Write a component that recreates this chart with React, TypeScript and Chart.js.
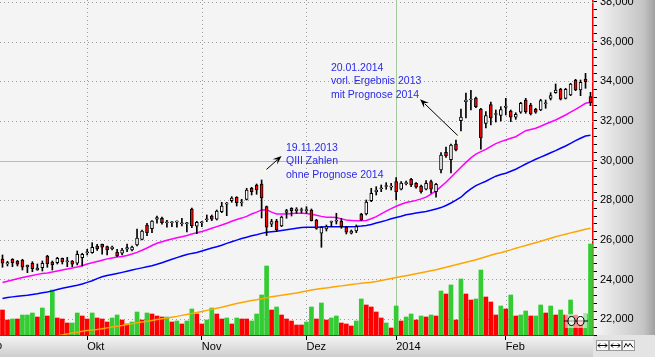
import React, { useEffect, useRef } from "react";
import { Chart, registerables } from "chart.js";

Chart.register(...registerables);

// ---------- categories (trading days) ----------
const sepDays = "06 09 10 11 12 13 16 17 18 19 20 23 24 25 26 27 30".split(" ");
const octDays = "01 02 03 04 07 08 09 10 11 14 15 16 17 18 21 22 23 24 25 28 29 30 31".split(" ");
const novDays = "01 04 05 06 07 08 11 12 13 14 15 18 19 20 21 22 25 26 27 28 29".split(" ");
const decDays = "02 03 04 05 06 09 10 11 12 13 16 17 18 19 20 23 27 30".split(" ");
const janDays = "02 03 06 07 08 09 10 13 14 15 16 17 20 21 22 23 24 27 28 29 30 31".split(" ");
const febDays = "03 04 05 06 07 10 11 12 13 14 17 18 19 20 21 24 25 26".split(" ");
const dates: string[] = [
  ...sepDays.map((d) => d + ".09.2013"),
  ...octDays.map((d) => d + ".10.2013"),
  ...novDays.map((d) => d + ".11.2013"),
  ...decDays.map((d) => d + ".12.2013"),
  ...janDays.map((d) => d + ".01.2014"),
  ...febDays.map((d) => d + ".02.2014"),
];

// ---------- x tick labels ----------
const tickDates = ["01.10.2013", "01.11.2013", "02.12.2013", "02.01.2014", "03.02.2014"];
const tickLabels = ["Okt", "Nov", "Dez", "2014", "Feb"];
const leadingTickLabel = "Sep";
const leadingTickOffset = -4; // 02.09.2013, left of the first shown day
const yearStartDate = "02.01.2014";

// ---------- y tick labels ----------
const priceLevels = [22000, 24000, 26000, 28000, 30000, 32000, 34000, 36000, 38000];
const minorTickStep = 400;
const highlightLevel = 30000;
const yMin = 21200;
const yMax = 38100;

// ---------- OHLC ----------
const open = [
  25035, 24783, 25020, 24934, 24984, 24646, 24818, 24480, 24596, 25186,
  24883, 24848, 25070, 24897, 24934, 24818, 25100, 25348, 25353, 25691,
  25776, 25655, 25554, 25373, 25322, 25524, 25489, 25741, 26028, 26750,
  26563, 27038, 27088, 26861, 26861, 26892, 26811, 26811, 27557, 26684,
  26861, 27013, 27204, 27038, 27421, 27799, 27976, 28147, 27860, 28046,
  28601, 28768, 28818, 27673, 26785, 26952, 26700, 27380, 27592, 27471,
  27482, 27477, 27507, 27002, 26331, 26548, 26889, 26940, 26952, 26634,
  26331, 26447, 27290, 27305, 27976, 28430, 28576, 28692, 28657, 28934,
  28551, 28839, 29055, 28853, 28717, 28551, 28934, 28430, 29524, 30417,
  30044, 30836, 32011, 32970, 33056, 33156, 32592, 31880, 32818, 32324,
  32274, 32677, 32501, 32183, 32435, 33056, 32803, 32586, 32551, 32864,
  33141, 33424, 33595, 33141, 33308, 34064, 33560, 34115, 33222,
];
const close = [
  24818, 24848, 24848, 24767, 24616, 24717, 24545, 24581, 24818, 24798,
  24747, 25070, 24899, 24947, 24767, 25272, 25272, 25398, 25625, 25554,
  25625, 25489, 25640, 25201, 25489, 25605, 25640, 26094, 26447, 26362,
  26952, 27118, 26866, 26911, 26911, 26942, 26861, 26861, 26715, 26886,
  26911, 27063, 27038, 27456, 27708, 27849, 28112, 27875, 27910, 28515,
  28430, 28515, 28112, 26634, 26916, 26498, 27154, 27481, 27471, 27557,
  27532, 27527, 26967, 26583, 26634, 26664, 26939, 26990, 26664, 26382,
  26447, 26664, 27002, 27910, 28349, 28515, 28626, 28742, 28707, 28430,
  28869, 28889, 28768, 28652, 28430, 28853, 28551, 28803, 30281, 30231,
  30785, 30533, 32198, 33056, 33106, 32718, 31139, 32274, 32147, 32374,
  32566, 32753, 32183, 32334, 32889, 32465, 32349, 32435, 33020, 32914,
  33273, 33560, 33091, 33595, 33863, 33560, 33948, 33979, 32919,
];
const high = [
  25237, 24919, 25050, 24960, 25020, 24732, 24899, 24783, 24934, 25221,
  24934, 25121, 25085, 25121, 24959, 25438, 25322, 25524, 25857, 25776,
  25791, 25691, 25691, 25524, 25575, 25791, 25691, 26548, 26498, 26836,
  26970, 27204, 27153, 26987, 26920, 26960, 27088, 26880, 27607, 26937,
  26930, 27254, 27254, 27507, 27895, 27895, 28178, 28178, 28046, 28601,
  28652, 28818, 29020, 27708, 27038, 27038, 27204, 27542, 27623, 27623,
  27607, 27673, 27557, 27038, 26664, 26750, 26952, 27340, 27088, 26664,
  26498, 26750, 27340, 28011, 28601, 28682, 28768, 28884, 28853, 29136,
  28934, 28969, 29106, 28884, 28768, 28985, 29020, 28853, 30397, 30685,
  30836, 31038, 32602, 33409, 33545, 33207, 32637, 32465, 32945, 32551,
  32718, 33141, 32551, 32415, 32940, 33141, 32889, 32637, 33091, 33056,
  33424, 33863, 33646, 33646, 33898, 34100, 34064, 34402, 33444,
];
const low = [
  24616, 24682, 24646, 24682, 24480, 24344, 24394, 24465, 24429, 24616,
  24480, 24783, 24783, 24646, 24646, 24732, 24682, 25237, 25322, 25464,
  25272, 25237, 25489, 25151, 25237, 25403, 25438, 25691, 25993, 26210,
  26362, 26836, 26785, 26634, 26664, 26634, 26699, 26397, 26614, 26311,
  26664, 26916, 26967, 27002, 27370, 27219, 27895, 27708, 27708, 28011,
  28263, 28298, 27103, 26220, 26664, 26412, 26664, 27088, 27204, 27340,
  27355, 27340, 26952, 26533, 25625, 26447, 26664, 26800, 26583, 26296,
  26296, 26362, 26967, 27255, 27925, 28263, 28430, 28551, 28515, 28011,
  28515, 28768, 28682, 28601, 28349, 28515, 28349, 28147, 29373, 30155,
  29373, 30483, 31492, 32147, 32551, 32667, 30569, 31643, 31794, 31946,
  31996, 32299, 31961, 32082, 32385, 32385, 32299, 32385, 32516, 32637,
  33056, 33394, 33056, 33106, 33273, 33525, 33273, 33646, 32768,
];

// ---------- volume (thousands) and its colour flag (1 = green, 0 = red) ----------
const volumeK = [
  250, 150, 160, 160, 200, 200, 220, 180, 270, 190,
  450, 170, 160, 120, 120, 220, 190, 160, 220, 170,
  160, 130, 170, 200, 150, 110, 130, 230, 150, 220,
  210, 190, 180, 180, 130, 140, 110, 140, 260, 210,
  110, 150, 270, 210, 160, 170, 110, 170, 160, 160,
  140, 210, 400, 690, 250, 280, 200, 160, 140, 100,
  100, 130, 280, 160, 320, 150, 170, 190, 120, 110,
  90, 140, 360, 300, 280, 230, 170, 120, 70, 290,
  140, 180, 210, 150, 190, 180, 200, 190, 440, 410,
  500, 150, 560, 410, 350, 360, 650, 380, 330, 200,
  290, 260, 400, 190, 200, 240, 190, 190, 300, 220,
  290, 200, 250, 200, 350, 200, 150, 210, 910,
];
const volumeUp = [
  0, 0, 1, 0, 1, 1, 1, 0, 1, 0,
  1, 0, 0, 0, 1, 1, 0, 0, 1, 0,
  0, 0, 1, 1, 0, 0, 1, 1, 0, 1,
  0, 0, 0, 1, 0, 1, 0, 1, 1, 0,
  0, 1, 1, 0, 0, 1, 0, 1, 0, 0,
  1, 1, 1, 1, 0, 1, 0, 0, 0, 0,
  0, 1, 1, 0, 1, 0, 1, 1, 0, 0,
  0, 1, 1, 0, 0, 0, 0, 1, 0, 1,
  0, 1, 1, 0, 1, 0, 1, 0, 1, 0,
  1, 0, 1, 0, 0, 1, 1, 0, 0, 0,
  1, 0, 1, 0, 1, 1, 0, 1, 1, 0,
  1, 0, 1, 0, 1, 0, 0, 1, 1,
];
const volumeMaxK = 3350;

// ---------- moving averages ----------
const maShort = [
  23849, 23915, 23975, 24036, 24097, 24152, 24207, 24258, 24298, 24329,
  24374, 24424, 24475, 24525, 24576, 24626, 24697, 24783, 24843, 24909,
  24974, 25040, 25090, 25136, 25166, 25211, 25282, 25368, 25474, 25590,
  25716, 25827, 25907, 25983, 26044, 26104, 26160, 26220, 26291, 26356,
  26422, 26498, 26583, 26669, 26750, 26841, 26942, 27027, 27098, 27184,
  27305, 27396, 27512, 27517, 27396, 27305, 27305, 27305, 27325, 27340,
  27340, 27330, 27290, 27244, 27184, 27138, 27138, 27123, 27058, 26997,
  26982, 26967, 26967, 26982, 27068, 27169, 27310, 27446, 27572, 27693,
  27794, 27885, 27935, 27991, 28066, 28157, 28309, 28470, 28687, 28904,
  29156, 29408, 29661, 29908, 30135, 30321, 30448, 30564, 30715, 30856,
  30957, 31038, 31124, 31204, 31356, 31507, 31567, 31628, 31734, 31845,
  31946, 32047, 32173, 32299, 32440, 32586, 32738, 32889, 32940,
];
const maMid = [
  23042, 23088, 23123, 23153, 23183, 23209, 23244, 23284, 23330, 23370,
  23426, 23496, 23557, 23612, 23663, 23708, 23774, 23854, 23935, 24046,
  24137, 24197, 24248, 24303, 24359, 24419, 24480, 24535, 24586, 24641,
  24697, 24767, 24848, 24934, 25020, 25105, 25186, 25262, 25317, 25363,
  25438, 25514, 25585, 25655, 25731, 25822, 25902, 25988, 26064, 26134,
  26205, 26261, 26326, 26387, 26412, 26437, 26472, 26508, 26548, 26588,
  26624, 26634, 26634, 26634, 26654, 26664, 26664, 26664, 26664, 26664,
  26664, 26669, 26694, 26725, 26775, 26846, 26911, 26982, 27068, 27128,
  27189, 27264, 27305, 27350, 27391, 27431, 27491, 27557, 27628, 27734,
  27860, 28001, 28152, 28384, 28571, 28737, 28848, 28959, 29086, 29212,
  29297, 29358, 29459, 29560, 29696, 29827, 29948, 30064, 30175, 30281,
  30392, 30498, 30619, 30735, 30871, 31002, 31124, 31240, 31275,
];
const maLong = [
  null, null, null, null, null, null, null, null, null, null,
  21105, 21156, 21206, 21256, 21302, 21342, 21388, 21423, 21453, 21483,
  21519, 21559, 21599, 21640, 21680, 21726, 21771, 21816, 21857, 21897,
  21937, 21978, 22018, 22058, 22099, 22139, 22190, 22235, 22280, 22331,
  22381, 22442, 22497, 22548, 22603, 22664, 22729, 22785, 22835, 22886,
  22936, 22977, 23027, 23077, 23128, 23173, 23209, 23244, 23279, 23315,
  23365, 23415, 23466, 23511, 23547, 23577, 23612, 23642, 23678, 23713,
  23748, 23779, 23809, 23839, 23864, 23900, 23950, 24001, 24051, 24102,
  24147, 24192, 24238, 24288, 24339, 24389, 24440, 24490, 24556, 24616,
  24682, 24742, 24808, 24868, 24934, 24999, 25075, 25151, 25226, 25302,
  25353, 25423, 25494, 25575, 25645, 25716, 25786, 25857, 25933, 26008,
  26084, 26160, 26225, 26286, 26351, 26412, 26472, 26533, 26583,
];

// ---------- annotations (anchored in data coordinates: [day index, price]) ----------
const annotations = [
  {
    lines: ["19.11.2013", "QIII Zahlen", "ohne Prognose 2014"],
    textAt: [56.9, 30634],
    arrowFrom: [52.7, 29489],
    arrowTo: [56.0, 30231],
  },
  {
    lines: ["20.01.2014", "vorl. Ergebnis 2013", "mit Prognose 2014"],
    textAt: [65.9, 34670],
    arrowFrom: [91.6, 31204],
    arrowTo: [83.8, 33091],
  },
];

const FONT = '"Liberation Sans", Arial, sans-serif';
const RED = "#ff0000";
const GREEN_VOL = "#33cc33";
const GRID_GREEN = "#a6c8a0";

const fmt = (v: number) => String(v).replace(/\B(?=(\d{3})+(?!\d))/g, ",");

export default function App() {
  const ref = useRef<HTMLCanvasElement | null>(null);

  useEffect(() => {
    const canvas = ref.current;
    if (!canvas) return;
    const tickIdx = tickDates.map((d) => dates.indexOf(d));
    const yearIdx = dates.indexOf(yearStartDate);
    const labelAt = (i: number) => {
      const k = tickIdx.indexOf(i);
      return k >= 0 ? tickLabels[k] : "";
    };

    const bgPlugin = {
      id: "bgPlugin",
      beforeDraw(chart: any) {
        const { ctx, chartArea: ca } = chart;
        const width = chart.width;
        const height = chart.height;
        ctx.save();
        ctx.fillStyle = "#f4f4f4";
        ctx.fillRect(0, 0, width, height);
        const g = ctx.createLinearGradient(ca.right, 0, width, 0);
        g.addColorStop(0, "#f7f7f7");
        g.addColorStop(0.82, "#c4c4c4");
        g.addColorStop(1, "#a0a0a0");
        ctx.fillStyle = g;
        ctx.fillRect(ca.right, 0, width - ca.right, ca.bottom);
        const g2 = ctx.createLinearGradient(0, ca.bottom, 0, height);
        g2.addColorStop(0, "#f6f6f6");
        g2.addColorStop(1, "#cdcdcd");
        ctx.fillStyle = g2;
        ctx.fillRect(0, ca.bottom, ca.right, height - ca.bottom);
        ctx.fillStyle = "#e4e4e4";
        ctx.fillRect(ca.right, ca.bottom, width - ca.right, height - ca.bottom);
        ctx.restore();
      },
    };

    const gridPlugin = {
      id: "gridPlugin",
      beforeDatasetsDraw(chart: any) {
        const { ctx, chartArea: ca, scales } = chart;
        const xs = scales.x;
        const ys = scales.y;
        ctx.save();
        ctx.beginPath();
        ctx.rect(ca.left, ca.top, ca.right - ca.left, ca.bottom - ca.top);
        ctx.clip();
        ctx.lineWidth = 1;
        for (const v of priceLevels) {
          const py = Math.round(ys.getPixelForValue(v)) + 0.5;
          if (v === highlightLevel) {
            ctx.setLineDash([]);
            ctx.strokeStyle = GRID_GREEN;
          } else {
            ctx.setLineDash([1, 3]);
            ctx.strokeStyle = "#9c9c9c";
          }
          ctx.beginPath();
          ctx.moveTo(ca.left, py);
          ctx.lineTo(ca.right, py);
          ctx.stroke();
        }
        for (const i of tickIdx) {
          const px = Math.round(xs.getPixelForValue(i)) + 0.5;
          if (i === yearIdx) {
            ctx.setLineDash([]);
            ctx.strokeStyle = GRID_GREEN;
          } else {
            ctx.setLineDash([1, 3]);
            ctx.strokeStyle = "#9c9c9c";
          }
          ctx.beginPath();
          ctx.moveTo(px, ca.top);
          ctx.lineTo(px, ca.bottom);
          ctx.stroke();
        }
        ctx.restore();
      },
    };

    const drawArrow = (ctx: any, x1: number, y1: number, x2: number, y2: number) => {
      const a = Math.atan2(y2 - y1, x2 - x1);
      const len = 9;
      const hw = 3.5;
      ctx.beginPath();
      ctx.moveTo(x1, y1);
      ctx.lineTo(x2 - Math.cos(a) * len * 0.7, y2 - Math.sin(a) * len * 0.7);
      ctx.stroke();
      const bx = x2 - Math.cos(a) * len;
      const by = y2 - Math.sin(a) * len;
      ctx.beginPath();
      ctx.moveTo(x2, y2);
      ctx.lineTo(bx + Math.sin(a) * hw, by - Math.cos(a) * hw);
      ctx.lineTo(x2 - Math.cos(a) * len * 0.6, y2 - Math.sin(a) * len * 0.6);
      ctx.lineTo(bx - Math.sin(a) * hw, by + Math.cos(a) * hw);
      ctx.closePath();
      ctx.fill();
    };

    const annotationPlugin = {
      id: "annotationPlugin",
      afterDatasetsDraw(chart: any) {
        const { ctx, scales } = chart;
        const xs = scales.x;
        const ys = scales.y;
        ctx.save();
        for (const an of annotations) {
          const fx = xs.getPixelForValue(an.arrowFrom[0]);
          const fy = ys.getPixelForValue(an.arrowFrom[1]);
          const tx = xs.getPixelForValue(an.arrowTo[0]);
          const ty = ys.getPixelForValue(an.arrowTo[1]);
          ctx.strokeStyle = "#000";
          ctx.fillStyle = "#000";
          ctx.lineWidth = 1;
          drawArrow(ctx, fx, fy, tx, ty);
          ctx.fillStyle = "#ffffd0";
          ctx.fillRect(fx - 1.5, fy - 1.5, 3, 3);
          const lx = xs.getPixelForValue(an.textAt[0]);
          const ly = ys.getPixelForValue(an.textAt[1]);
          ctx.fillStyle = "#2a2ae8";
          ctx.font = `10.5px ${FONT}`;
          ctx.textAlign = "left";
          ctx.textBaseline = "middle";
          an.lines.forEach((t, k) => ctx.fillText(t, lx, ly + k * 13.6));
        }
        ctx.restore();
      },
      afterDraw(chart: any) {
        const { ctx, chartArea: ca, scales } = chart;
        const xs = scales.x;
        ctx.save();
        ctx.font = `11px ${FONT}`;
        ctx.fillStyle = "#000";
        ctx.textAlign = "left";
        ctx.textBaseline = "top";
        ctx.fillText(leadingTickLabel, xs.getPixelForValue(leadingTickOffset), ca.bottom + 5);
        const bx0 = ca.right + 3;
        for (let k = 0; k < 3; k++) {
          const bx = bx0 + k * 13;
          ctx.fillStyle = "#f8f8f8";
          ctx.fillRect(bx, ca.bottom + 5, 12, 10);
          ctx.strokeStyle = "#9a9a9a";
          ctx.lineWidth = 1;
          ctx.strokeRect(bx + 0.5, ca.bottom + 5.5, 12, 10);
          ctx.strokeStyle = "#000";
          ctx.beginPath();
          const cy = ca.bottom + 10.5;
          if (k < 2) {
            ctx.moveTo(bx + 2, cy);
            ctx.lineTo(bx + 11, cy);
            ctx.moveTo(bx + 4, cy - 2);
            ctx.lineTo(bx + 2, cy);
            ctx.lineTo(bx + 4, cy + 2);
            ctx.moveTo(bx + 9, cy - 2);
            ctx.lineTo(bx + 11, cy);
            ctx.lineTo(bx + 9, cy + 2);
          } else {
            ctx.moveTo(bx + 2, cy + 2);
            ctx.lineTo(bx + 4, cy - 2);
            ctx.lineTo(bx + 6, cy + 1);
            ctx.lineTo(bx + 8, cy - 2);
            ctx.lineTo(bx + 11, cy + 2);
          }
          ctx.stroke();
        }
        const wx = ca.right - 28;
        const wy = ca.bottom - 21;
        ctx.fillStyle = "rgba(255,255,255,0.55)";
        ctx.fillRect(wx, wy, 22, 14);
        ctx.strokeStyle = "#000";
        ctx.beginPath();
        ctx.moveTo(wx - 1, wy + 7);
        ctx.lineTo(wx + 23, wy + 7);
        ctx.stroke();
        ctx.fillStyle = "rgba(255,255,255,0.6)";
        ctx.beginPath();
        ctx.ellipse(wx + 6.5, wy + 7, 3.5, 4.5, 0, 0, Math.PI * 2);
        ctx.fill();
        ctx.stroke();
        ctx.beginPath();
        ctx.ellipse(wx + 15.5, wy + 7, 3.5, 4.5, 0, 0, Math.PI * 2);
        ctx.fill();
        ctx.stroke();
        ctx.restore();
      },
    };

    const chart = new Chart(canvas, {
      data: {
        labels: dates,
        datasets: [
          {
            type: "bar",
            label: "Körper",
            data: open.map((o, i) => [o, close[i]]),
            backgroundColor: open.map((o, i) => (close[i] >= o ? "#ffffff" : RED)),
            borderColor: "#000",
            borderWidth: 1,
            borderSkipped: false,
            barThickness: 3,
            grouped: false,
            order: 1,
            yAxisID: "y",
          } as any,
          {
            type: "bar",
            label: "Docht",
            data: low.map((l, i) => [l, high[i]]),
            backgroundColor: "#000",
            barThickness: 1,
            grouped: false,
            order: 2,
            yAxisID: "y",
          } as any,
          {
            type: "line",
            label: "GD kurz",
            data: maShort,
            borderColor: "#ff00ff",
            borderWidth: 1.5,
            pointRadius: 0,
            order: 3,
            yAxisID: "y",
          } as any,
          {
            type: "line",
            label: "GD mittel",
            data: maMid,
            borderColor: "#0000ff",
            borderWidth: 1.5,
            pointRadius: 0,
            order: 3,
            yAxisID: "y",
          } as any,
          {
            type: "line",
            label: "GD 200",
            data: maLong,
            borderColor: "#ffa500",
            borderWidth: 1.5,
            pointRadius: 0,
            order: 3,
            yAxisID: "y",
          } as any,
          {
            type: "bar",
            label: "Volumen",
            data: volumeK,
            backgroundColor: volumeUp.map((u) => (u ? GREEN_VOL : RED)),
            barThickness: 4,
            grouped: false,
            order: 10,
            yAxisID: "yv",
          } as any,
        ],
      },
      options: {
        responsive: false,
        animation: false,
        events: [],
        layout: { padding: 0 },
        plugins: { legend: { display: false }, tooltip: { enabled: false } },
        scales: {
          x: {
            type: "category",
            offset: true,
            grid: {
              offset: false,
              drawOnChartArea: false,
              drawTicks: true,
              tickLength: 5,
              tickColor: (c: any) => (labelAt(c.index) ? "#000" : "rgba(0,0,0,0)"),
            },
            border: { color: RED, width: 1 },
            ticks: {
              autoSkip: false,
              maxRotation: 0,
              minRotation: 0,
              align: "start",
              padding: 0,
              color: "#000",
              font: { family: FONT, size: 11 },
              callback: (_v: any, i: number) => labelAt(i),
            },
            afterFit(s: any) {
              s.height = 22;
              s.paddingLeft = 0;
              s.paddingRight = 0;
            },
          } as any,
          y: {
            type: "linear",
            position: "right",
            min: yMin,
            max: yMax,
            afterBuildTicks(s: any) {
              const t: any[] = [];
              for (let v = priceLevels[0] - 2 * minorTickStep; v <= priceLevels[priceLevels.length - 1]; v += minorTickStep) {
                if (v >= yMin) t.push({ value: v });
              }
              s.ticks = t;
            },
            grid: { drawOnChartArea: false, drawTicks: true, tickLength: 4, tickColor: "#000" },
            border: { color: RED, width: 1.5 },
            ticks: {
              autoSkip: false,
              padding: 3,
              color: "#000",
              font: { family: FONT, size: 11 },
              callback: (v: any) => {
                const n = Math.round(Number(v));
                return priceLevels.includes(n) ? fmt(n) : "";
              },
            },
            afterFit(s: any) {
              s.width = 62;
              s.paddingTop = 0;
              s.paddingBottom = 0;
            },
          } as any,
          yv: { type: "linear", display: false, min: 0, max: volumeMaxK } as any,
        },
      },
      plugins: [bgPlugin, gridPlugin, annotationPlugin],
    });
    return () => chart.destroy();
  }, []);

  return (
    <div style={{ position: "fixed", left: 0, top: 0, width: 655, height: 357, overflow: "hidden" }}>
      <canvas ref={ref} width={655} height={357} style={{ display: "block" }} />
    </div>
  );
}
